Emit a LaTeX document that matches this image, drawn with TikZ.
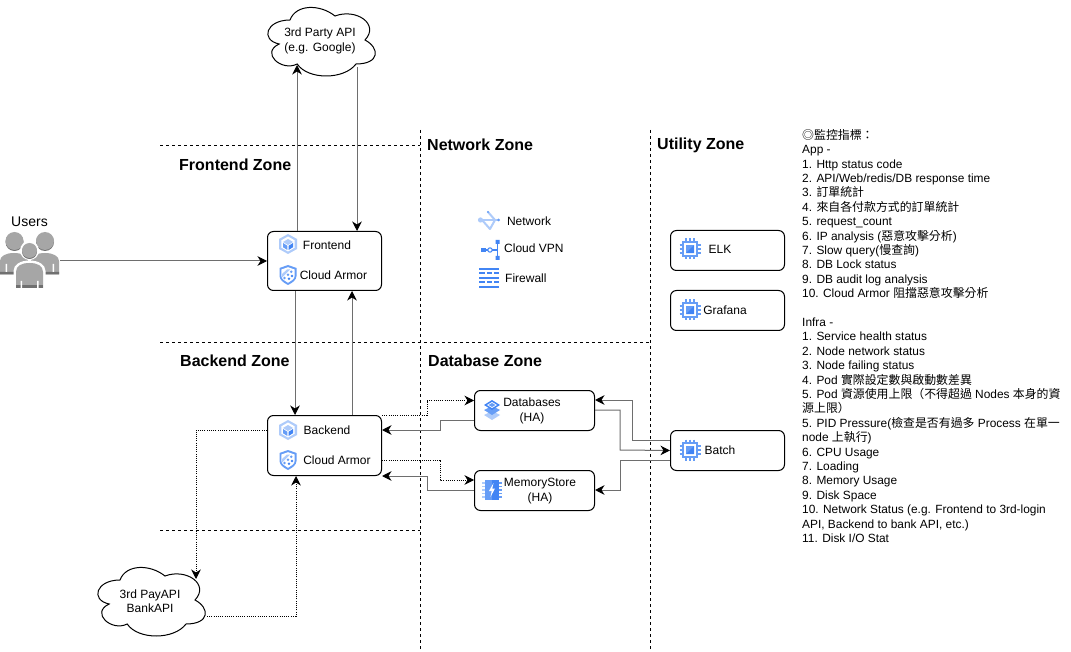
\documentclass[tikz,border=0pt]{standalone}
\usepackage{fontspec}
\setmainfont{Liberation Sans}
\newfontfamily\cjkf{Noto Sans CJK TC}
\newcommand{\cj}[1]{{\cjkf #1}}
\usetikzlibrary{arrows.meta,calc}
\definecolor{gblue}{HTML}{4285F4}
\definecolor{gmid}{HTML}{669DF6}
\definecolor{glight}{HTML}{AECBFA}
\definecolor{conn}{HTML}{6E6E6E}
\definecolor{ugray}{HTML}{A6A6A6}
\definecolor{ushade}{HTML}{707070}
\tikzset{
  x=1pt,y=-1pt,
  tip/.style={-{Stealth[black,length=9.5pt,width=9.5pt,inset=3pt]}},
  wire/.style={conn,line width=1pt,tip},
  dots/.style={black,line width=.9pt,dash pattern=on 1pt off 1.2pt,tip},
  zone/.style={black,line width=.9pt,dash pattern=on 3pt off 3pt},
  boxn/.style={draw=black,line width=1pt,rounded corners=6pt,fill=white,minimum width=114pt,minimum height=40pt,anchor=north west,inner sep=0pt},
  lbl/.style={font=\fontsize{12}{14.4}\selectfont,align=center,inner sep=0pt,yshift=-1pt},
  zt/.style={font=\fontsize{16}{19}\selectfont\bfseries,inner sep=0pt,anchor=west,yshift=-1pt},
}
\newcommand{\cloudat}[2]{%
  \begin{scope}[shift={(#1,#2)}]
  \draw[black,line width=1pt,fill=white] (30,20)
   .. controls (6,20) and (0,40) .. (19.2,44)
   .. controls (0,52.8) and (21.6,72) .. (37.2,64)
   .. controls (48,80) and (84,80) .. (96,64)
   .. controls (120,64) and (120,48) .. (105,40)
   .. controls (120,24) and (96,8) .. (75,16)
   .. controls (60,4) and (36,4) .. (30,20) -- cycle;
  \end{scope}}
\newcommand{\hexicon}[2]{%
  \begin{scope}[shift={(#1,#2)}]
  \fill[glight] (0,-10) -- (9,-5) -- (9,5) -- (0,10) -- (-9,5) -- (-9,-5) -- cycle;
  \fill[white] (0,-7.5) -- (6.6,-3.7) -- (6.6,3.7) -- (0,7.5) -- (-6.6,3.7) -- (-6.6,-3.7) -- cycle;
  \fill[glight] (0,-5) -- (5,-2) -- (0,1) -- (-5,-2) -- cycle;
  \fill[gmid] (-5,-1) -- (-.6,1.8) -- (-.6,6) -- (-5,3.2) -- cycle;
  \fill[gblue] (5,-1) -- (.6,1.8) -- (.6,6) -- (5,3.2) -- cycle;
  \end{scope}}
\newcommand{\shieldicon}[2]{%
  \begin{scope}[shift={(#1,#2)}]
  \fill[gmid] (0,-10) -- (8.5,-7) -- (8.5,1) .. controls (8.5,5) and (4,8) .. (0,10) .. controls (-4,8) and (-8.5,5) .. (-8.5,1) -- (-8.5,-7) -- cycle;
  \fill[white] (0,-7.8) -- (6.6,-5.5) -- (6.6,1) .. controls (6.6,3.8) and (3,6.2) .. (0,7.8) .. controls (-3,6.2) and (-6.6,3.8) .. (-6.6,1) -- (-6.6,-5.5) -- cycle;
  \fill[glight] (-6,-1) -- (-1,-5.5) -- (2,-5.5) -- (-6,2.5) -- cycle;
  \fill[gmid] (-3.5,3) circle (1.4) (0,-.2) circle (1.4) (3.2,-3.2) circle (1.4);
  \fill[gblue] (1,3.8) circle (1.4) (4,1) circle (1.4);
  \end{scope}}
\newcommand{\chipicon}[2]{%
  \begin{scope}[shift={(#1,#2)}]
  \draw[gmid,line width=1.7pt] (-6.8,-6.8) rectangle (6.8,6.8);
  \foreach \t in {-4,0,4}{
    \draw[gmid,line width=1.5pt] (\t,-10.5) -- (\t,-8) (\t,8) -- (\t,10.5) (-10.5,\t) -- (-8,\t) (8,\t) -- (10.5,\t);}
  \fill[gmid] (-4.2,-4.2) rectangle (4.2,4.2);
  \fill[gblue] (4.2,-4.2) -- (4.2,4.2) -- (-4.2,4.2) -- cycle;
  \end{scope}}
\begin{document}
\begin{tikzpicture}
\useasboundingbox (0,0) rectangle (1071,652);
\fill[white] (0,0) rectangle (1071,652);
% zones
\coordinate (h1a) at (160,145); \coordinate (h1b) at (420,145);
\coordinate (h2a) at (160,342); \coordinate (h2b) at (650,342);
\coordinate (h3a) at (160,530); \coordinate (h3b) at (420,530);
\coordinate (v1a) at (420,130); \coordinate (v1b) at (420,650);
\coordinate (v2a) at (650,130); \coordinate (v2b) at (650,650);
\draw[zone] (h1a) -- (h1b);
\draw[zone] (h2a) -- (h2b);
\draw[zone] (h3a) -- (h3b);
\draw[zone] (v1a) -- (v1b);
\draw[zone] (v2a) -- (v2b);
\node[zt] (zf) at (179,164) {Frontend Zone};
\node[zt] (zb) at (180,360) {Backend Zone};
\node[zt] (zn) at (427,144) {Network Zone};
\node[zt] (zd) at (428,360) {Database Zone};
\node[zt] (zu) at (657,144) {Utility Zone};
% clouds
\cloudat{260}{0}
\node[lbl] (api) at (320,40) {3rd Party API\\(e.g. Google)};
\cloudat{90}{560}
\node[lbl] (pay) at (150,600) {3rd PayAPI\\BankAPI};
% boxes
\node[boxn,minimum height=59pt] (front) at (267,231) {};
\node[boxn,minimum height=60pt] (back) at (267,415) {};
\node[boxn,minimum width=120pt] (db) at (474,390) {};
\node[boxn,minimum width=120pt] (mem) at (474,470) {};
\node[boxn] (batch) at (670,430) {};
\node[boxn] (elk) at (670,230) {};
\node[boxn] (graf) at (670,290) {};
% users
\begin{scope}
  \fill[ugray] (0,274.5) -- (0,261) .. controls (0,256) and (6,253) .. (14,253) .. controls (22,253) and (28,256) .. (28,261) -- (28,274.5) -- cycle;
  \fill[ugray] (31,274.5) -- (31,261) .. controls (31,256) and (37,253) .. (45,253) .. controls (53,253) and (59,256) .. (59,261) -- (59,274.5) -- cycle;
  \fill[ushade] (0,272) rectangle (18,274.5) (41,272) rectangle (59,274.5);
  \fill[white] (5.5,264) rectangle (7,272) (52.5,264) rectangle (54,272);
  \fill[ushade] (14.5,242) circle (9);
  \fill[ugray] (14.5,241) circle (9);
  \fill[ushade] (45,242) circle (9);
  \fill[ugray] (45,241) circle (9);
  \fill[white] (29.5,250.5) circle (9.5);
  \fill[white] (13.5,289) -- (13.5,271) .. controls (13.5,265) and (20,260.5) .. (29.5,260.5) .. controls (39,260.5) and (45.5,265) .. (45.5,271) -- (45.5,289) -- cycle;
  \fill[ushade] (29.5,251.5) circle (7.5);
  \fill[ugray] (29.5,250.5) circle (7.5);
  \fill[ugray] (16,288) -- (16,272) .. controls (16,266) and (21,263) .. (29.5,263) .. controls (38,263) and (43,266) .. (43,272) -- (43,288) -- cycle;
  \fill[ushade] (16,285.5) rectangle (43,288);
  \fill[white] (20.5,281) rectangle (22,288) (37,281) rectangle (38.5,288);
\end{scope}
\node[font=\fontsize{14}{16}\selectfont,inner sep=0pt,yshift=-1pt] (users) at (29.5,221) {Users};
\coordinate (usr) at (60,261);
% connectors
\draw[wire] (usr) -- (front.west |- usr);
\draw[wire] ($(front.north west)+(30,0)$) -- (297,65);
\coordinate (apiout) at (357,67);
\draw[wire] (apiout) -- ($(front.north west)+(90,0)$);
\draw[wire] ($(front.south west)+(28,0)$) -- ($(back.north west)+(28,0)$);
\draw[wire] ($(back.north west)+(85,0)$) -- ($(front.south west)+(85,0)$);
\draw[dots] (back.north east) -- (427,415) -- (427,400.5) -- (db.west |- 474,400.5);
\draw[wire] ($(db.north west)+(0,30.5)$) -- (440,420.5) -- (440,430) -- ($(back.north east)+(0,15)$);
\draw[dots] ($(back.north east)+(0,45)$) -- (440,460) -- (440,480) -- ($(mem.north west)+(0,10)$);
\draw[wire] ($(mem.north west)+(0,20)$) -- (427,490) -- (427,476) -- (back.south east);
\draw[wire] ($(batch.north west)+(0,10.5)$) -- (632.5,440.5) -- (632.5,400) -- ($(db.north east)+(0,10)$);
\draw[wire] ($(db.north east)+(0,20)$) -- (620,410) -- (620,450) -- (batch.west);
\draw[wire] ($(batch.north west)+(0,30)$) -- (620,460) -- (620,490) -- ($(mem.north east)+(0,20)$);
\coordinate (payin) at (196,579);
\coordinate (payout) at (207,616);
\draw[dots] ($(back.north west)+(0,15)$) -- (196,430) -- (payin);
\draw[dots] (payout) -- (296,616) -- ($(back.south west)+(29,0)$);
% box contents
\hexicon{288}{244}
\shieldicon{288}{275}
\node[lbl] (t1) at (327,244) {Frontend};
\node[lbl] (t2) at (333.5,274) {Cloud Armor};
\hexicon{288}{430}
\shieldicon{288}{460}
\node[lbl] (t3) at (327,429) {Backend};
\node[lbl] (t4) at (337,459) {Cloud Armor};
% databases icon
\begin{scope}[shift={(492,410)}]
  \fill[glight] (-8,5) -- (0,1) -- (8,5) -- (0,10) -- cycle;
  \fill[gmid] (-8,0) -- (0,-4) -- (8,0) -- (0,5) -- cycle;
  \fill[gblue] (-8,-5) -- (0,-10) -- (8,-5) -- (0,0) -- cycle;
  \fill[white] (-5,-5) -- (0,-8) -- (5,-5) -- (0,-2) -- cycle;
  \fill[gmid] (-3.5,-5) -- (0,-7) -- (3.5,-5) -- (0,-3) -- cycle;
\end{scope}
\node[lbl] (t5) at (532,410) {Databases\\(HA)};
% memorystore icon
\begin{scope}[shift={(492,490)}]
  \fill[gmid] (-7,-10) rectangle (0,10);
  \fill[gblue] (0,-10) rectangle (7,10);
  \foreach \t in {-7,-3.5,0,3.5,7}{
    \fill[glight] (-10,\t-.9) rectangle (-7,\t+.9);
    \fill[gmid] (7,\t-.9) rectangle (10,\t+.9);}
  \fill[white] (1.5,-7) -- (-3,1) -- (-.3,1) -- (-1.5,7) -- (3,-1.5) -- (.3,-1.5) -- cycle;
\end{scope}
\node[lbl] (t6) at (540,490) {MemoryStore\\(HA)};
\chipicon{690}{450}
\node[lbl] (t7) at (720,449) {Batch};
\chipicon{690}{249}
\node[lbl] (t8) at (720,248) {ELK};
\chipicon{690}{310}
\node[lbl] (t9) at (725,309) {Grafana};
% network zone items
\begin{scope}[shift={(489,221)},line cap=round,line join=round]
  \draw[glight,line width=2pt] (-8,-1) -- (9,-1);
  \draw[glight,line width=2pt] (-1,-9) -- (6,-1) -- (1,8) -- (-7,-1);
  \fill[glight] (-8.5,-1) circle (2.6);
  \fill[gmid] (-1,-9) circle (1.2) (9.5,-1) circle (1.5);
\end{scope}
\node[lbl] (n1) at (529,220) {Network};
\begin{scope}[shift={(490,250)}]
  \fill[gblue] (-9,-2) rectangle (-4,2);
  \fill[gblue] (5.5,-10) rectangle (9.5,-6) (5.5,6) rectangle (9.5,10);
  \draw[gblue,line width=1.4pt] (7.5,-8) -- (7.5,8) (-4,0) -- (7.5,0);
  \draw[gblue,line width=1pt,fill=white] (0,0) circle (2.2);
\end{scope}
\node[lbl,anchor=west] (n2) at (504,247.5) {Cloud VPN};
\begin{scope}[shift={(489,278)}]
  \foreach \yy/\aa/\bb in {-9/-10/10,-4.5/-10/-4,-4.5/-2/3,-4.5/5/10,0/-10/10,4.5/-10/-4,4.5/-2/3,4.5/5/10,9/-10/10}{
    \fill[gblue] (\aa,\yy-1) rectangle (\bb,\yy+1);}
\end{scope}
\node[lbl,anchor=west] (n3) at (505,277) {Firewall};
% metrics
\node[font=\fontsize{11.9}{14.4}\selectfont,align=left,inner sep=0pt,anchor=north west] (metrics) at (802,129) {%
\cj{◎監控指標：}\\
App -\\
1. Http status code\\
2. API/Web/redis/DB response time\\
3. \cj{訂單統計}\\
4. \cj{來自各付款方式的訂單統計}\\
5. request\_count\\
6. IP analysis (\cj{惡意攻擊分析})\\
7. Slow query(\cj{慢查詢})\\
8. DB Lock status\\
9. DB audit log analysis\\
10. Cloud Armor \cj{阻擋惡意攻擊分析}\\
\mbox{}\\
Infra -\\
1. Service health status\\
2. Node network status\\
3. Node failing status\\
4. Pod \cj{實際設定數與啟動數差異}\\
5. Pod \cj{資源使用上限（不得超過} Nodes \cj{本身的資}\\
\cj{源上限）}\\
5. PID Pressure(\cj{檢查是否有過多} Process \cj{在單一}\\
node \cj{上執行})\\
6. CPU Usage\\
7. Loading\\
8. Memory Usage\\
9. Disk Space\\
10. Network Status (e.g. Frontend to 3rd-login\\
API, Backend to bank API, etc.)\\
11. Disk I/O Stat};
\end{tikzpicture}
\end{document}
